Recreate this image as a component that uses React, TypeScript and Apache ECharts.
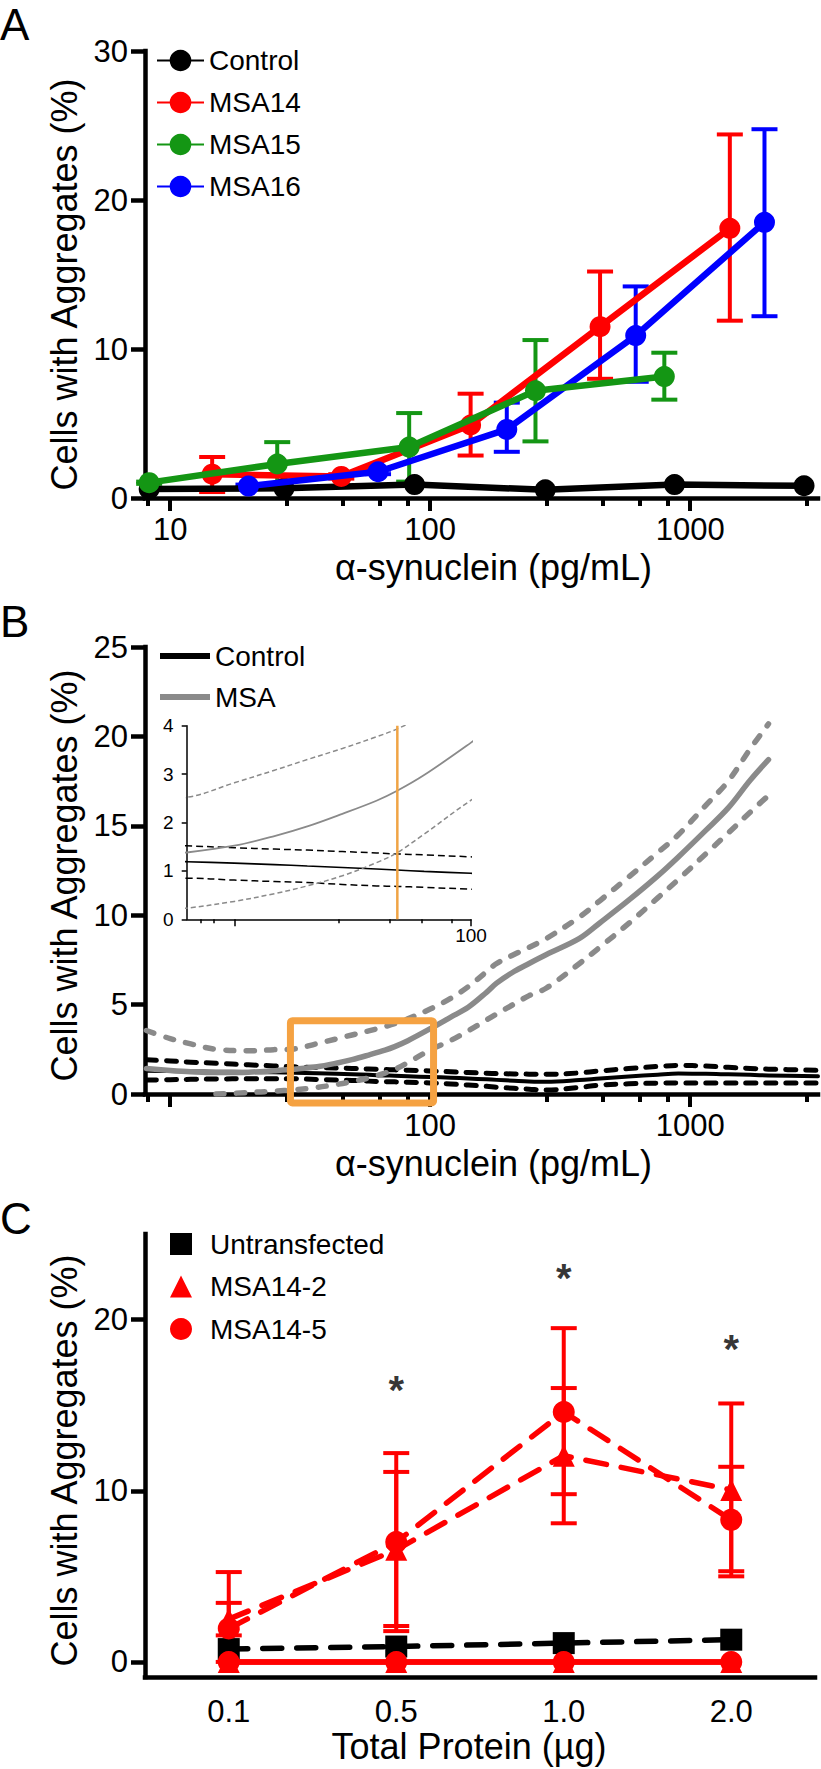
import React, { useEffect, useRef } from 'react';
import * as echarts from 'echarts';

const FONT = '"Liberation Sans", Arial, Helvetica, sans-serif';
const Y_TITLE = 'Cells with Aggregates (%)';
const X_TITLE_AB = 'α-synuclein (pg/mL)';
const X_TITLE_C = 'Total Protein (µg)';

// ---------- Panel A ----------
const A_CONTROL_X = [8.3, 27.4, 87, 277, 870, 2740];
const A_CONTROL_Y = [0.6, 0.65, 0.9, 0.55, 0.9, 0.82];
const A_MSA14_X = [14.5, 45.5, 143, 450, 1420];
const A_MSA14_Y = [1.6, 1.45, 4.9, 11.5, 18.1];
const A_MSA14_LO = [0.4, 1.3, 2.85, 8.0, 11.9];
const A_MSA14_HI = [2.75, 1.6, 7.0, 15.2, 24.4];
const A_MSA15_X = [8.3, 25.8, 83, 254, 795];
const A_MSA15_Y = [1.03, 2.28, 3.42, 7.2, 8.15];
const A_MSA15_LO = [0.95, 0.8, 1.1, 3.8, 6.6];
const A_MSA15_HI = [1.1, 3.75, 5.7, 10.6, 9.75];
const A_MSA16_X = [20, 63, 197, 617, 1930];
const A_MSA16_Y = [0.8, 1.76, 4.6, 10.9, 18.5];
const A_MSA16_LO = [0.7, 1.6, 3.1, 7.8, 12.2];
const A_MSA16_HI = [0.9, 1.9, 6.4, 14.2, 24.75];

const A_LOG_LABELS = [10, 100, 1000];
const LOG_MAJOR_TICKS = [10, 100, 1000];
const LOG_MINOR_TICKS = [8.2, 28, 46, 64, 82, 280, 460, 640, 820, 2800];
const B_LOG_LABELS = [100, 1000];

// ---------- Panel B (model fits) ----------
const B_X = [8.1, 10, 12, 15, 20, 25, 30, 36.7, 43.5, 50, 58, 67, 73, 82, 100, 120, 140, 165, 180, 210, 240, 280, 375, 450, 580, 750, 900, 1150, 1400, 1700, 2000, 3100];
const B_MSA_FIT = [1.42, 1.32, 1.25, 1.2, 1.22, 1.3, 1.38, 1.52, 1.72, 1.92, 2.18, 2.45, 2.65, 2.98, 3.65, 4.3, 4.85, 5.7, 6.2, 6.85, 7.3, 7.8, 8.7, 9.58, 10.84, 12.2, 13.26, 14.76, 16.0, 17.55, 18.7, null];
const B_MSA_UPPER = [3.55, 3.1, 2.8, 2.5, 2.42, 2.48, 2.52, 2.82, 3.08, 3.3, 3.53, 3.77, 3.93, 4.2, 4.75, 5.35, 6.0, 6.85, 7.3, 7.8, 8.2, 8.7, 9.9, 10.82, 12.14, 13.5, 14.5, 16.16, 17.5, 19.3, 20.7, null];
const B_MSA_LOWER = [null, null, null, 0, 0.08, 0.16, 0.23, 0.37, 0.53, 0.69, 0.9, 1.17, 1.37, 1.76, 2.46, 3.0, 3.53, 4.15, 4.47, 5.03, 5.5, 5.93, 7.3, 8.22, 9.54, 10.97, 12.0, 13.44, 14.6, 15.76, 16.7, null];
const B_CTRL_FIT = [1.3, 1.28, 1.26, 1.25, 1.23, 1.21, 1.19, 1.16, 1.13, 1.1, 1.07, 1.04, 1.02, 0.99, 0.95, 0.91, 0.87, 0.82, 0.79, 0.74, 0.7, 0.68, 0.78, 0.87, 0.98, 1.08, 1.14, 1.13, 1.1, 1.07, 1.04, 0.99];
const B_CTRL_UPPER = [1.91, 1.85, 1.78, 1.72, 1.63, 1.57, 1.52, 1.48, 1.45, 1.43, 1.4, 1.37, 1.35, 1.33, 1.29, 1.24, 1.2, 1.16, 1.14, 1.12, 1.11, 1.1, 1.18, 1.29, 1.42, 1.54, 1.6, 1.56, 1.49, 1.43, 1.39, 1.32];
const B_CTRL_LOWER = [0.78, 0.8, 0.82, 0.84, 0.85, 0.85, 0.85, 0.81, 0.78, 0.76, 0.72, 0.69, 0.68, 0.66, 0.62, 0.56, 0.5, 0.43, 0.38, 0.32, 0.27, 0.22, 0.37, 0.5, 0.57, 0.61, 0.62, 0.62, 0.62, 0.62, 0.62, 0.62];

// zoom box [xMin, xMax, yMin, yMax] and inset
const B_BOX = [29, 103, -0.5, 4.1];
const INSET_MAJOR_TICKS = [36.7, 100];
const INSET_MINOR_TICKS = [31.8, 33.6, 57, 71, 81.3, 92.3];
const INSET_LABELS = [100];
const INSET_THRESHOLD = 73.2;

// ---------- Panel C ----------
const C_CATS = ['0.1', '0.5', '1.0', '2.0'];
const C_UNTRANS = [0.75, 0.9, 1.1, 1.3];
const C_M2 = [2.5, 6.55, 12.05, 10.05];
const C_M2_LO = [1.55, 2.1, 8.1, 5.0];
const C_M2_HI = [3.45, 11.1, 16.0, 15.1];
const C_M5 = [1.95, 7.0, 14.6, 8.3];
const C_M5_LO = [0, 1.8, 9.8, 5.3];
const C_M5_HI = [5.25, 12.2, 19.5, 11.4];
const C_M2_ZERO = [0, 0, 0, 0];
const C_M5_ZERO = [0, 0, 0, 0];
const C_SIG_IDX = [1, 2, 3];
const C_SIG_Y = [16.4, 22.95, 18.8];
const C_Y_TICKS = [0, 10, 20];

const RED = '#ff0000';
const GREEN = '#149614';
const BLUE = '#0000ff';
const GRAY = '#8a8a8a';
const ORANGE = '#F5A242';

const zip = (xs: any[], ys: any[]) => xs.map((x, i) => [x, ys[i]]);
const T = (size: number, extra: any = {}) => ({ fontSize: size, color: '#000', fontFamily: FONT, ...extra });
const blackLine = (w: number) => ({ show: true, onZero: false, lineStyle: { color: '#000', width: w, cap: 'square' } });

function errorBars(name: string, xIdx: number, yIdx: number, xs: any[], lo: number[], hi: number[], color: string, cap: number, width: number) {
  return {
    type: 'custom',
    name,
    xAxisIndex: xIdx,
    yAxisIndex: yIdx,
    clip: false,
    silent: true,
    z: 2,
    data: xs.map((x, i) => [x, lo[i], hi[i]]),
    encode: { x: 0, y: [1, 2] },
    renderItem: (params: any, api: any) => {
      const x = api.value(0);
      const p0 = api.coord([x, api.value(1)]);
      const p1 = api.coord([x, api.value(2)]);
      const style = { stroke: color, lineWidth: width, fill: 'none' };
      return {
        type: 'group',
        children: [
          { type: 'line', shape: { x1: p0[0], y1: p0[1], x2: p1[0], y2: p1[1] }, style },
          { type: 'line', shape: { x1: p0[0] - cap, y1: p0[1], x2: p0[0] + cap, y2: p0[1] }, style },
          { type: 'line', shape: { x1: p1[0] - cap, y1: p1[1], x2: p1[0] + cap, y2: p1[1] }, style },
        ],
      };
    },
  };
}

function logAxes(grid: number, labels: number[], title: string) {
  return [
    {
      type: 'log', logBase: 10, gridIndex: grid, min: 8, max: 3100, position: 'bottom',
      axisLine: blackLine(4.5),
      axisTick: { show: true, customValues: LOG_MAJOR_TICKS, length: 13, lineStyle: { color: '#000', width: 4 } },
      axisLabel: { show: true, customValues: labels, margin: 16, ...T(31), formatter: (v: number) => String(v) },
      splitLine: { show: false },
      minorTick: { show: false },
      name: title, nameLocation: 'middle', nameGap: 51,
      nameTextStyle: T(36, { padding: [0, 0, 0, 24] }),
    },
    {
      type: 'log', logBase: 10, gridIndex: grid, min: 8, max: 3100, position: 'bottom',
      axisLine: { show: false },
      axisTick: { show: true, customValues: LOG_MINOR_TICKS, length: 8, lineStyle: { color: '#000', width: 4 } },
      axisLabel: { show: false },
      splitLine: { show: false },
    },
  ];
}

function mainYAxis(grid: number, max: number, interval: number, shift: number) {
  return {
    type: 'value', gridIndex: grid, min: 0, max, interval,
    axisLine: blackLine(4.5),
    axisTick: { show: true, length: 14, lineStyle: { color: '#000', width: 4.5 } },
    axisLabel: { margin: 17, ...T(31) },
    splitLine: { show: false },
    name: Y_TITLE, nameLocation: 'middle', nameGap: 61,
    nameTextStyle: T(36, { padding: [0, shift, 0, 0] }),
  };
}

function fitLine(name: string, xIdx: number, yIdx: number, ys: any[], color: string, width: number, dash: any, z = 3) {
  return {
    type: 'line', name, xAxisIndex: xIdx, yAxisIndex: yIdx,
    data: zip(B_X, ys), symbol: 'none', showSymbol: false, smooth: 0.35, connectNulls: false,
    lineStyle: { color, width, type: dash, cap: 'round', join: 'round' },
    itemStyle: { color }, z, silent: true,
  };
}

function buildOption() {
  const xAxis: any[] = [
    ...logAxes(0, A_LOG_LABELS, X_TITLE_AB), // 0,1
    ...logAxes(1, B_LOG_LABELS, X_TITLE_AB), // 2,3
    {
      type: 'log', logBase: 10, gridIndex: 2, min: 30, max: 100, position: 'bottom', // 4
      axisLine: { show: true, onZero: false, lineStyle: { color: '#000', width: 1.5 } },
      axisTick: { show: true, customValues: INSET_MAJOR_TICKS, length: 7, lineStyle: { color: '#000', width: 1.5 } },
      axisLabel: { show: true, customValues: INSET_LABELS, margin: 7, ...T(19), formatter: (v: number) => String(v) },
      splitLine: { show: false },
    },
    {
      type: 'log', logBase: 10, gridIndex: 2, min: 30, max: 100, position: 'bottom', // 5
      axisLine: { show: false },
      axisTick: { show: true, customValues: INSET_MINOR_TICKS, length: 4, lineStyle: { color: '#000', width: 1.5 } },
      axisLabel: { show: false },
      splitLine: { show: false },
    },
    {
      type: 'category', gridIndex: 3, data: C_CATS, boundaryGap: true, position: 'bottom', // 6
      axisLine: blackLine(4.5),
      axisTick: { show: false },
      axisLabel: { margin: 19, ...T(31) },
      splitLine: { show: false },
      name: X_TITLE_C, nameLocation: 'middle', nameGap: 51,
      nameTextStyle: T(36, { padding: [0, 22, 0, 0] }),
    },
  ];

  const yAxis: any[] = [
    mainYAxis(0, 30, 10, 20),
    mainYAxis(1, 25, 5, 10),
    {
      type: 'value', gridIndex: 2, min: 0, max: 4, interval: 1,
      axisLine: { show: true, onZero: false, lineStyle: { color: '#000', width: 1.5 } },
      axisTick: { show: true, length: 5, lineStyle: { color: '#000', width: 1.5 } },
      axisLabel: { margin: 13, ...T(19) },
      splitLine: { show: false },
    },
    {
      type: 'value', gridIndex: 3, min: -0.88, max: 25,
      axisLine: blackLine(4.5),
      axisTick: { show: true, customValues: C_Y_TICKS, length: 14, lineStyle: { color: '#000', width: 4.5 } },
      axisLabel: { customValues: C_Y_TICKS, margin: 17, ...T(31) },
      splitLine: { show: false },
      name: Y_TITLE, nameLocation: 'middle', nameGap: 61,
      nameTextStyle: T(36, { padding: [0, 10, 0, 0] }),
    },
  ];

  const grid = [
    { left: 145, top: 51, width: 673, height: 447, outerBoundsMode: 'none' },
    { left: 145, top: 647, width: 673, height: 447, outerBoundsMode: 'none' },
    { left: 186.7, top: 725.7, width: 284.3, height: 193.6, outerBoundsMode: 'none' },
    { left: 145, top: 1234, width: 670, height: 443, outerBoundsMode: 'none' },
  ];

  const aLine = (name: string, xs: number[], ys: number[], color: string, z: number) => ({
    type: 'line', name, xAxisIndex: 0, yAxisIndex: 0, data: zip(xs, ys),
    symbol: 'circle', symbolSize: 21, lineStyle: { color, width: 6.5, join: 'round' }, itemStyle: { color }, z,
  });

  const insetLine = (name: string, ys: any[], color: string, width: number, dash: any) => ({
    type: 'line', name, xAxisIndex: 4, yAxisIndex: 2, data: zip(B_X, ys), symbol: 'none', showSymbol: false,
    smooth: 0.35, clip: true, lineStyle: { color, width, type: dash }, itemStyle: { color }, z: 3, silent: true,
  });

  const cLine = (name: string, ys: number[], color: string, symbol: string, dash: any, z: number) => ({
    type: 'line', name, xAxisIndex: 6, yAxisIndex: 3, data: ys,
    symbol, symbolSize: 22, lineStyle: { color, width: 5.5, type: dash, cap: 'round' }, itemStyle: { color }, z,
  });

  const series: any[] = [
    // Panel A
    errorBars('A-err14', 0, 0, A_MSA14_X, A_MSA14_LO, A_MSA14_HI, RED, 13, 4),
    errorBars('A-err15', 0, 0, A_MSA15_X, A_MSA15_LO, A_MSA15_HI, GREEN, 13, 4),
    errorBars('A-err16', 0, 0, A_MSA16_X, A_MSA16_LO, A_MSA16_HI, BLUE, 13, 4),
    aLine('Control', A_CONTROL_X, A_CONTROL_Y, '#000', 3),
    aLine('MSA14', A_MSA14_X, A_MSA14_Y, RED, 4),
    aLine('MSA16', A_MSA16_X, A_MSA16_Y, BLUE, 5),
    aLine('MSA15', A_MSA15_X, A_MSA15_Y, GREEN, 6),

    // Panel B main
    fitLine('B-CtrlUp', 2, 1, B_CTRL_UPPER, '#000', 5, [10, 10]),
    fitLine('B-CtrlLo', 2, 1, B_CTRL_LOWER, '#000', 5, [10, 10]),
    fitLine('B-Control', 2, 1, B_CTRL_FIT, '#000', 4, 'solid'),
    fitLine('B-MsaUp', 2, 1, B_MSA_UPPER, GRAY, 5.5, [8, 12.5], 4),
    fitLine('B-MsaLo', 2, 1, B_MSA_LOWER, GRAY, 5.5, [8, 12.5], 4),
    fitLine('B-MSA', 2, 1, B_MSA_FIT, GRAY, 5.5, 'solid', 4),
    {
      type: 'custom', name: 'B-box', xAxisIndex: 2, yAxisIndex: 1, clip: false, silent: true, z: 10,
      data: [B_BOX], encode: { x: [0, 1], y: [2, 3] },
      renderItem: (params: any, api: any) => {
        const p0 = api.coord([api.value(0), api.value(3)]);
        const p1 = api.coord([api.value(1), api.value(2)]);
        return {
          type: 'rect',
          shape: { x: p0[0], y: p0[1], width: p1[0] - p0[0], height: p1[1] - p0[1], r: 2 },
          style: { fill: 'none', stroke: ORANGE, lineWidth: 7, lineJoin: 'round' },
        };
      },
    },

    // Inset
    insetLine('I-CtrlUp', B_CTRL_UPPER, '#000', 1.5, [7, 4]),
    insetLine('I-CtrlLo', B_CTRL_LOWER, '#000', 1.5, [7, 4]),
    insetLine('I-Ctrl', B_CTRL_FIT, '#000', 1.6, 'solid'),
    insetLine('I-MsaUp', B_MSA_UPPER, GRAY, 1.5, [5, 3]),
    insetLine('I-MsaLo', B_MSA_LOWER, GRAY, 1.5, [5, 3]),
    insetLine('I-Msa', B_MSA_FIT, GRAY, 1.8, 'solid'),
    {
      type: 'line', name: 'I-threshold', xAxisIndex: 4, yAxisIndex: 2, silent: true, z: 6,
      data: [[INSET_THRESHOLD, 0], [INSET_THRESHOLD, 4]], symbol: 'none',
      lineStyle: { color: '#F0A445', width: 2.5 },
    },

    // Panel C
    cLine('Untransfected', C_UNTRANS, '#000', 'rect', [19, 15], 3),
    errorBars('C-err2', 6, 3, [0, 1, 2, 3], C_M2_LO, C_M2_HI, RED, 13, 4),
    errorBars('C-err5', 6, 3, [0, 1, 2, 3], C_M5_LO, C_M5_HI, RED, 13, 4),
    cLine('MSA14-2', C_M2, RED, 'triangle', [21, 15], 4),
    cLine('MSA14-5', C_M5, RED, 'circle', [21, 15], 4),
    cLine('MSA14-5 (0)', C_M5_ZERO, RED, 'circle', 'solid', 4),
    cLine('MSA14-2 (0)', C_M2_ZERO, RED, 'triangle', 'solid', 5),
    {
      type: 'scatter', name: 'C-sig', xAxisIndex: 6, yAxisIndex: 3, silent: true, z: 8,
      data: zip(C_SIG_IDX, C_SIG_Y), symbolSize: 1, itemStyle: { color: 'rgba(0,0,0,0)' },
      label: { show: true, formatter: '*', position: 'inside', offset: [0, 9], ...T(40, { fontWeight: 'bold' }) },
    },
  ];

  const legendText = T(28, { lineHeight: 30 });

  return {
    animation: false,
    backgroundColor: '#fff',
    textStyle: { fontFamily: FONT },
    grid,
    xAxis,
    yAxis,
    series,
    legend: [
      {
        orient: 'vertical', left: 156, top: 45.5, padding: 0, itemWidth: 47, itemHeight: 27, itemGap: 12,
        selectedMode: false, data: ['Control', 'MSA14', 'MSA15', 'MSA16'], textStyle: legendText,
      },
      {
        orient: 'vertical', left: 160, top: 641, padding: 0, itemWidth: 50, itemHeight: 6, itemGap: 11,
        selectedMode: false, icon: 'rect', data: ['B-Control', 'B-MSA'],
        formatter: (n: string) => n.replace('B-', ''), textStyle: legendText,
      },
      {
        orient: 'vertical', left: 170, top: 1229, padding: 0, itemWidth: 22, itemHeight: 22, itemGap: 12.5,
        selectedMode: false,
        data: [
          { name: 'Untransfected', icon: 'rect' },
          { name: 'MSA14-2', icon: 'triangle' },
          { name: 'MSA14-5', icon: 'circle' },
        ],
        textStyle: T(28, { lineHeight: 30, padding: [0, 0, 0, 13] }),
      },
    ],
    graphic: [
      { type: 'text', style: { x: 0, y: 24, text: 'A', verticalAlign: 'middle', font: `44px ${FONT}`, fill: '#000' } },
      { type: 'text', style: { x: 0, y: 621, text: 'B', verticalAlign: 'middle', font: `44px ${FONT}`, fill: '#000' } },
      { type: 'text', style: { x: 0, y: 1218, text: 'C', verticalAlign: 'middle', font: `44px ${FONT}`, fill: '#000' } },
    ],
  };
}

export default function App() {
  const ref = useRef<HTMLDivElement>(null);
  useEffect(() => {
    if (!ref.current) return;
    const chart = echarts.init(ref.current, undefined, { renderer: 'svg' });
    chart.setOption(buildOption() as any);
    return () => chart.dispose();
  }, []);
  return (
    <div
      ref={ref}
      style={{ position: 'absolute', left: 0, top: 0, width: 821, height: 1769, background: '#fff' }}
    />
  );
}
